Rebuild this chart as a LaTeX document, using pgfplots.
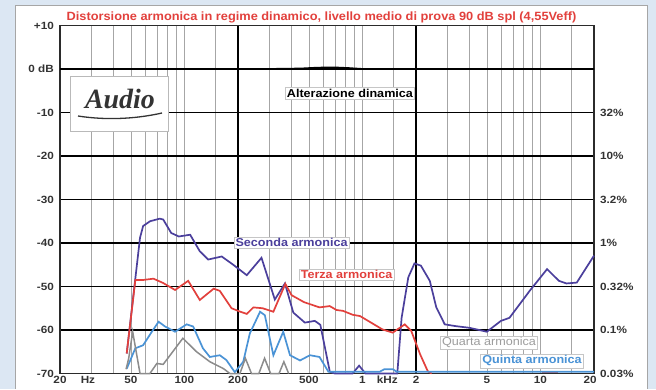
\documentclass[border=0pt]{standalone}
\usepackage{fontspec}
\setmainfont{Liberation Sans}
\newfontfamily\logofont{Liberation Serif}
\usepackage{graphicx}
\usepackage{pgfplots}
\pgfplotsset{compat=1.18}

\definecolor{bgblue}{HTML}{DCE7F3}
\definecolor{seconda}{HTML}{4B3F9C}
\definecolor{terza}{HTML}{E2403C}
\definecolor{quarta}{HTML}{8C8C8C}
\definecolor{quinta}{HTML}{4A93D6}
\definecolor{framec}{HTML}{2B2B2B}
\definecolor{labelc}{HTML}{333333}

% slightly widened lettering
\newcommand\wtick[1]{\scalebox{1.12}[1]{#1}}
\newcommand\wlbl[1]{\scalebox{1.1}[1]{#1}}

\begin{document}
\begin{tikzpicture}[x=1bp,y=1bp]
% page background and card
\fill[bgblue] (0,0) rectangle (656,389);
\fill[white] (15,0) rectangle (647,384);
\draw[gray!70, line width=0.8bp] (15,0) -- (15,384) -- (647,384) -- (647,0);

\begin{axis}[
  at={(60bp,15.5bp)}, anchor=south west,
  width=534bp, height=348bp, scale only axis,
  xmode=log, xmin=20, xmax=20000, ymin=-70, ymax=10,
  clip=false,
  axis line style={framec, line width=1.4bp},
  xtick={20,200,2000,20000},
  minor xtick={30,40,50,60,70,80,90,100,150,300,400,500,600,700,800,900,1000,1500,3000,4000,5000,6000,7000,8000,9000,10000,15000},
  ytick={-70,-60,...,10},
  xticklabels={}, yticklabels={},
  tick style={draw=none},
  grid=both,
  major grid style={black, line width=1.1bp},
  minor grid style={gray!70, line width=0.6bp},
]
% dynamic level change (0 dB reference)
\addplot[black, line width=1.8bp] coordinates {
 (20,0) (300,0) (450,0.1) (560,0.3) (700,0.35) (840,0.2) (1000,0) (20000,0)};

% second harmonic
\addplot[seconda, line width=1.7bp] coordinates {
 (47.4,-65.4) (56.3,-38.8) (58.6,-36.1) (64.1,-35.0) (72.7,-34.4) (76,-34.6)
 (84.3,-37.7) (93,-38.5) (107.7,-38.1) (122,-41.9) (136,-43.8) (162,-43.1)
 (188,-45.0) (224,-47.4) (271,-43.4) (322,-53.0) (367,-49.3) (409,-56.0)
 (475,-58.3) (540,-57.9) (580,-58.8) (656,-69.6) (700,-70) (880,-70)
 (958,-68.2) (1040,-70) (1570,-70) (1660,-57.2) (1810,-47.9) (1960,-44.7)
 (2130,-45.2) (2390,-48.7) (2600,-54.8) (2900,-58.7) (3330,-59.1) (4000,-59.5)
 (5000,-60.4) (6000,-57.9) (6700,-57.2) (8700,-51.0) (10900,-46.0)
 (12700,-48.7) (14000,-49.3) (16000,-49.1) (20000,-42.9)};

% third harmonic
\addplot[terza, line width=1.7bp] coordinates {
 (47.4,-65.4) (53,-48.5) (58.6,-48.5) (67,-48.2) (76,-49.2) (88.6,-50.8)
 (105,-48.7) (122,-53.1) (146,-50.5) (158,-51.0) (184,-55.0) (206,-55.8)
 (224,-56.3) (244,-54.8) (275,-55.0) (316,-55.8) (369,-49.4) (400,-52.0)
 (470,-53.6) (574,-54.8) (655,-54.5) (715,-55.4) (778,-55.6) (882,-56.5)
 (970,-56.8) (1300,-59.9) (1480,-60.6) (1730,-58.7) (1880,-60.2)
 (2110,-65.6) (2330,-69.5) (2450,-70)};
\addplot[terza, line width=1.7bp] coordinates {(10200,-69.7) (12500,-69.7)};

% fifth harmonic
\addplot[quinta, line width=1.7bp] coordinates {
 (47.4,-68.9) (53,-64.2) (58.6,-63.5) (65.6,-60.4) (71.6,-58.1) (77.9,-59.2)
 (88.6,-60.4) (103,-58.7) (112,-59.2) (127,-64.2) (139,-66.2) (158,-65.8)
 (172,-66.9) (192,-69.7) (214,-67.3) (233,-60.8) (266,-55.8) (283,-56.6)
 (316,-65.8) (359,-60.4) (392,-65.8) (446,-67.0) (507,-65.8) (574,-66.2)
 (644,-69.6) (1250,-69.6) (1330,-69.0) (1480,-69.0) (1560,-69.6) (20000,-69.6)};

% fourth harmonic
\addplot[quarta, line width=1.5bp] coordinates {
 (47,-69) (48.6,-66.6) (51.2,-60.4) (56.3,-70) (64,-70) (70,-67.7) (76,-67.9)
 (98,-61.9) (117,-65) (139,-67.3) (166,-68.9) (180,-70) (205,-70) (220,-66.5)
 (238,-70) (262,-70) (282,-66.5) (305,-70) (340,-70) (362,-67.3) (385,-70)};

% curve labels
\tikzset{lbl/.style={fill=white, draw=gray!45, line width=0.5bp, inner sep=1.6bp,
  font=\bfseries\fontsize{11.5}{13}\selectfont}}
\node[lbl, text=black] at (axis cs:851,-5.6) {\wlbl{Alterazione dinamica}};
\node[lbl, text=seconda] at (axis cs:400,-39.9) {\wlbl{Seconda armonica}};
\node[lbl, text=terza] at (axis cs:814,-47.3) {\wlbl{Terza armonica}};
\node[lbl, text=quarta!85, font=\fontsize{11.5}{13}\selectfont] at (axis cs:5140,-62.9) {\wlbl{Quarta armonica}};
\node[lbl, text=quinta] at (axis cs:8970,-67.1) {\wlbl{Quinta armonica}};

% left level scale
\tikzset{ylab/.style={anchor=east, xshift=-5bp, inner sep=1bp, text=labelc, font=\bfseries\fontsize{10.5}{12}\selectfont}}
\node[ylab] at (axis cs:20,10) {\wtick{+10}};
\node[ylab] at (axis cs:20,0) {\wtick{0 dB}};
\node[ylab] at (axis cs:20,-10) {\wtick{-10}};
\node[ylab] at (axis cs:20,-20) {\wtick{-20}};
\node[ylab] at (axis cs:20,-30) {\wtick{-30}};
\node[ylab] at (axis cs:20,-40) {\wtick{-40}};
\node[ylab] at (axis cs:20,-50) {\wtick{-50}};
\node[ylab] at (axis cs:20,-60) {\wtick{-60}};
\node[ylab] at (axis cs:20,-70) {\wtick{-70}};

% right percentage scale
\tikzset{plab/.style={anchor=west, xshift=5bp, inner sep=1bp, text=labelc, font=\bfseries\fontsize{10.5}{12}\selectfont}}
\node[plab] at (axis cs:20000,-10) {\wtick{32\%}};
\node[plab] at (axis cs:20000,-20) {\wtick{10\%}};
\node[plab] at (axis cs:20000,-30) {\wtick{3.2\%}};
\node[plab] at (axis cs:20000,-40) {\wtick{1\%}};
\node[plab] at (axis cs:20000,-50) {\wtick{0.32\%}};
\node[plab] at (axis cs:20000,-60) {\wtick{0.1\%}};
\node[plab] at (axis cs:20000,-70) {\wtick{0.03\%}};

% frequency scale
\tikzset{xlab/.style={anchor=north, yshift=-1.5bp, inner sep=1bp, text=labelc, font=\bfseries\fontsize{10.5}{12}\selectfont}}
\node[xlab] at (axis cs:20,-70) {\wtick{20}};
\node[xlab] at (axis cs:28.7,-70) {\wtick{Hz}};
\node[xlab] at (axis cs:50,-70) {\wtick{50}};
\node[xlab] at (axis cs:100,-70) {\wtick{100}};
\node[xlab] at (axis cs:200,-70) {\wtick{200}};
\node[xlab] at (axis cs:500,-70) {\wtick{500}};
\node[xlab] at (axis cs:1000,-70) {\wtick{1}};
\node[xlab] at (axis cs:1380,-70) {\wtick{kHz}};
\node[xlab] at (axis cs:2000,-70) {\wtick{2}};
\node[xlab] at (axis cs:5000,-70) {\wtick{5}};
\node[xlab] at (axis cs:10000,-70) {\wtick{10}};
\node[xlab, xshift=-4bp] at (axis cs:20000,-70) {\wtick{20}};
\end{axis}

% title
\node[text=terza, font=\bfseries\fontsize{12}{14}\selectfont] at (321.5,372) {\scalebox{1.07}[1]{Distorsione armonica in regime dinamico, livello medio di prova 90 dB spl (4,55Veff)}};

% magazine logo
\filldraw[draw=gray!55, fill=white, line width=0.6bp] (70,257.3) rectangle (168,312.3);
\node[text=black!80, inner sep=0pt, font=\logofont\itshape\bfseries\fontsize{28}{28}\selectfont] at (120,290) {Audio};
\draw[black!80, line width=1.3bp] (78,273) .. controls (110,268) and (140,271) .. (162,276);

\pgfresetboundingbox
\useasboundingbox (0,0) rectangle (656,389);
\end{tikzpicture}
\end{document}
